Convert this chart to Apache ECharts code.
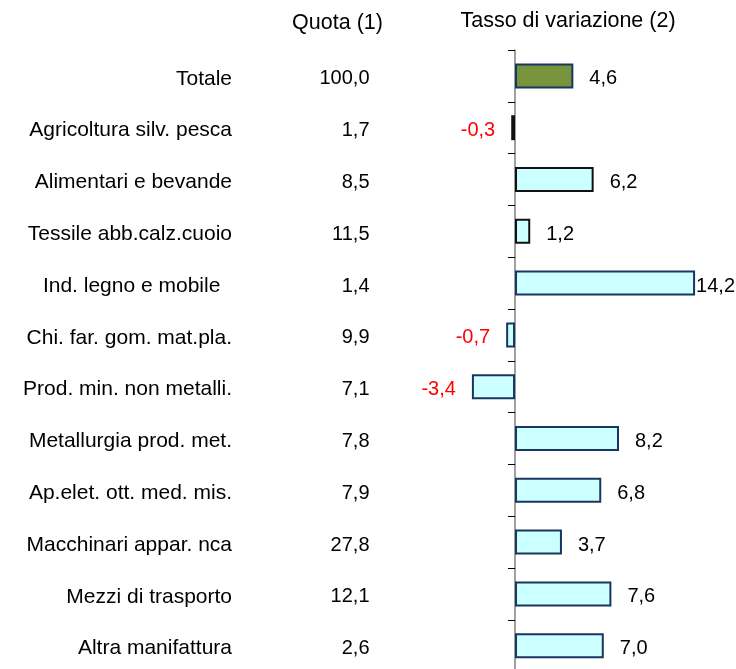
<!DOCTYPE html>
<html>
<head>
<meta charset="utf-8">
<style>html,body{margin:0;padding:0;background:#fff;}#c{width:736px;height:669px;}</style>
<script src="https://cdn.jsdelivr.net/npm/echarts@6/dist/echarts.min.js"></script>
</head>
<body>
<div id="c"></div>
<script>
const categories = [
  'Totale',
  'Agricoltura silv. pesca',
  'Alimentari e bevande',
  'Tessile abb.calz.cuoio',
  'Ind. legno e mobile  ',
  'Chi. far. gom. mat.pla.',
  'Prod. min. non metalli.',
  'Metallurgia prod. met.',
  'Ap.elet. ott. med. mis.',
  'Macchinari appar. nca',
  'Mezzi di trasporto',
  'Altra manifattura'
];
const quota = [100.0, 1.7, 8.5, 11.5, 1.4, 9.9, 7.1, 7.8, 7.9, 27.8, 12.1, 2.6];
const variazione = [4.6, -0.3, 6.2, 1.2, 14.2, -0.7, -3.4, 8.2, 6.8, 3.7, 7.6, 7.0];
const headers = ['Quota (1)', 'Tasso di variazione (2)'];

const fmt = v => v.toFixed(1).replace('.', ',');
const FONT = 'Liberation Sans, Arial, sans-serif';

const chart = echarts.init(document.getElementById('c'));

const gridLeft = 464.3, gridTop = 50, gridWidth = 253.6, gridHeight = 621.6;

const barData = variazione.map((v, i) => {
  const isTotal = i === 0;
  const blackBorder = i >= 1 && i <= 3;
  return {
    value: v,
    itemStyle: {
      color: isTotal ? '#77933C' : '#CCFFFF',
      borderColor: blackBorder ? '#111111' : '#17375E',
      borderWidth: 2
    },
    label: {
      position: v < 0 ? 'left' : 'right',
      distance: v > 12 ? 1 : 16,
      color: v < 0 ? '#FF0000' : '#000000'
    }
  };
});

chart.setOption({
  animation: false,
  backgroundColor: '#ffffff',
  graphic: [
    { type: 'text', x: 337.5, y: 23, style: { text: headers[0], align: 'center', verticalAlign: 'middle', fontSize: 21.5, fontFamily: FONT, fill: '#000' } },
    { type: 'text', x: 568, y: 21.5, style: { text: headers[1], align: 'center', verticalAlign: 'middle', fontSize: 21.5, fontFamily: FONT, fill: '#000' } }
  ],
  grid: { left: gridLeft, top: gridTop, width: gridWidth, height: gridHeight, outerBoundsMode: 'none', containLabel: false },
  xAxis: {
    type: 'value', min: -4, max: 16, show: false,
    splitLine: { show: false }
  },
  yAxis: [
    {
      type: 'category', inverse: true, data: categories,
      axisLine: { show: true, onZero: true, lineStyle: { color: '#808080', width: 1.5 } },
      axisTick: { show: true, length: 7, lineStyle: { color: '#000', width: 1 } },
      axisLabel: { show: false },
      splitLine: { show: false }
    },
    {
      type: 'category', inverse: true, data: categories, position: 'left',
      axisLine: { show: false }, axisTick: { show: false }, splitLine: { show: false },
      axisLabel: { margin: gridLeft - 232, fontSize: 21, fontFamily: FONT, color: '#000', verticalAlign: 'top', lineHeight: 6 }
    },
    {
      type: 'category', inverse: true, data: quota.map(fmt), position: 'left',
      axisLine: { show: false }, axisTick: { show: false }, splitLine: { show: false },
      axisLabel: { margin: gridLeft - 369.5, fontSize: 20, fontFamily: FONT, color: '#000', verticalAlign: 'top', lineHeight: 6 }
    }
  ],
  series: [{
    type: 'bar',
    xAxisIndex: 0, yAxisIndex: 0,
    barWidth: 25,
    data: barData,
    label: {
      show: true,
      fontSize: 20, fontFamily: FONT,
      offset: [0, 3],
      formatter: p => fmt(p.value)
    }
  }]
});
</script>
</body>
</html>
